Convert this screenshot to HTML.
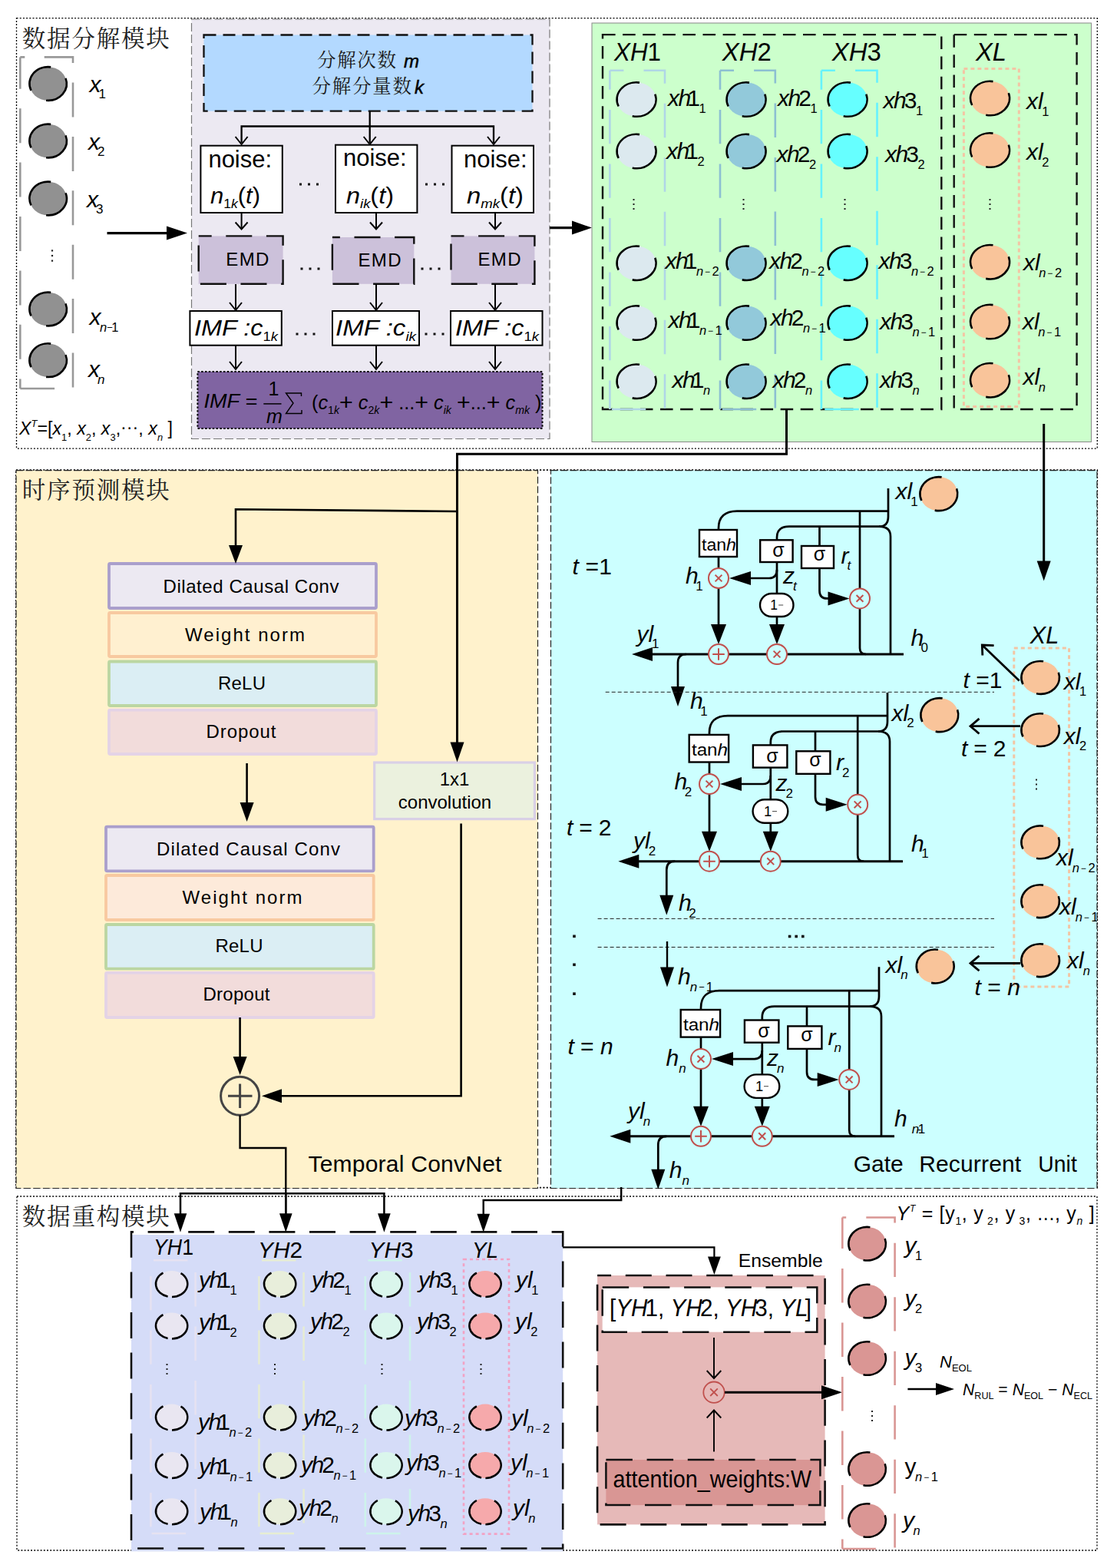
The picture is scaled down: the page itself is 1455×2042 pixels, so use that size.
<!DOCTYPE html>
<html><head><meta charset="utf-8"><title>diagram</title>
<style>
html,body{margin:0;padding:0;background:#fff;}
body{width:1455px;height:2042px;overflow:hidden;font-family:"Liberation Sans",sans-serif;}
svg{display:block;font-family:"Liberation Sans",sans-serif;}
</style></head><body>
<svg width="1455" height="2042" viewBox="0 0 1455 2042">
<rect width="1455" height="2042" fill="#fff"/>
<rect x="21.5" y="23.7" width="1407.8" height="560.4" fill="none" stroke="#000" stroke-width="1.3" stroke-dasharray="2 2.2" />
<text x="28.8" y="61" font-size="30.5" fill="#222" font-family="'Liberation Serif','Noto Serif CJK SC',serif" textLength="192" lengthAdjust="spacing">数据分解模块</text>
<path d="M26.3,74.4H95V506H26.3" fill="none" stroke="#999" stroke-width="2.6" stroke-dasharray="45 25.4" stroke-dashoffset="39" />
<path d="M26.3,506V74.4" fill="none" stroke="#999" stroke-width="2.6" stroke-dasharray="12.4 25.8 45 25.4 45 25.4 45 25.4 45 25.4 45 25.4 45 25.4" />
<ellipse cx="62.6" cy="109" rx="24.2" ry="21.8" fill="#919191"/>
<path d="M40.5,117.9A24.2,21.8 0 0 1 66.2,87.4" fill="none" stroke="#000" stroke-width="2.6"/>
<path d="M85.5,101.9A24.2,21.8 0 0 1 60.1,130.7" fill="none" stroke="#000" stroke-width="2.6"/>
<ellipse cx="62.6" cy="183.5" rx="24.2" ry="21.8" fill="#919191"/>
<path d="M40.5,192.4A24.2,21.8 0 0 1 66.2,161.9" fill="none" stroke="#000" stroke-width="2.6"/>
<path d="M85.5,176.4A24.2,21.8 0 0 1 60.1,205.2" fill="none" stroke="#000" stroke-width="2.6"/>
<ellipse cx="62.6" cy="258.5" rx="24.2" ry="21.8" fill="#919191"/>
<path d="M40.5,267.4A24.2,21.8 0 0 1 66.2,236.9" fill="none" stroke="#000" stroke-width="2.6"/>
<path d="M85.5,251.4A24.2,21.8 0 0 1 60.1,280.2" fill="none" stroke="#000" stroke-width="2.6"/>
<ellipse cx="62.6" cy="402.5" rx="24.2" ry="21.8" fill="#919191"/>
<path d="M40.5,411.4A24.2,21.8 0 0 1 66.2,380.9" fill="none" stroke="#000" stroke-width="2.6"/>
<path d="M85.5,395.4A24.2,21.8 0 0 1 60.1,424.2" fill="none" stroke="#000" stroke-width="2.6"/>
<ellipse cx="62.6" cy="469.2" rx="24.2" ry="21.8" fill="#919191"/>
<path d="M40.5,478.1A24.2,21.8 0 0 1 66.2,447.6" fill="none" stroke="#000" stroke-width="2.6"/>
<path d="M85.5,462.1A24.2,21.8 0 0 1 60.1,490.9" fill="none" stroke="#000" stroke-width="2.6"/>
<rect x="66.9" y="325.3" width="2.2" height="2.2" fill="#222"/>
<rect x="66.9" y="331.9" width="2.2" height="2.2" fill="#222"/>
<rect x="66.9" y="338.5" width="2.2" height="2.2" fill="#222"/>
<text x="116.5" y="119.8" font-size="30" fill="#000" ><tspan font-style="italic">x</tspan><tspan font-size="17" dy="8.5" dx="-3">1</tspan></text>
<text x="115" y="194.5" font-size="30" fill="#000" ><tspan font-style="italic">x</tspan><tspan font-size="17" dy="8.5" dx="-3">2</tspan></text>
<text x="113" y="269.5" font-size="30" fill="#000" ><tspan font-style="italic">x</tspan><tspan font-size="17" dy="8.5" dx="-3">3</tspan></text>
<text x="116.5" y="423" font-size="30" fill="#000" ><tspan font-style="italic">x</tspan><tspan font-style="italic" font-size="16.5" dy="9" dx="-1.5">n</tspan><tspan font-size="13" dy="-1">−</tspan><tspan font-size="16.5" dy="1" dx="-1.5">1</tspan></text>
<text x="115" y="491.4" font-size="30" fill="#000" ><tspan font-style="italic">x</tspan><tspan font-style="italic" font-size="17" dy="8.5" dx="-3">n</tspan></text>
<text x="25" y="566" font-size="23.5" fill="#000" textLength="200" lengthAdjust="spacingAndGlyphs" ><tspan font-style="italic">X</tspan><tspan font-style="italic" font-size="13" dy="-10">T</tspan><tspan dy="10">=[</tspan><tspan font-style="italic">x</tspan><tspan font-size="13" dy="8">1</tspan><tspan dy="-8">, </tspan><tspan font-style="italic">x</tspan><tspan font-size="13" dy="8">2</tspan><tspan dy="-8">, </tspan><tspan font-style="italic">x</tspan><tspan font-size="13" dy="8">3</tspan><tspan dy="-8">,</tspan><tspan dy="-2">···</tspan><tspan dy="2">, </tspan><tspan font-style="italic">x</tspan><tspan font-style="italic" font-size="13" dy="8">n</tspan><tspan dy="-8"> ]</tspan></text>
<path d="M139.5,303.6L222,303.6" fill="none" stroke="#000" stroke-width="3.2" />
<path d="M244,303.6L217,312.6L217,294.6Z" fill="#000"/>
<rect x="249.5" y="25" width="466.5" height="546.5" fill="#ece9f2" stroke="#777" stroke-width="1.2" stroke-dasharray="11 4" />
<rect x="265.5" y="45.5" width="428" height="99.2" fill="#b3d9ff" stroke="#111" stroke-width="2.3" stroke-dasharray="16 9" />
<text x="413" y="87" font-size="24.5" fill="#1a1a1a" font-family="'Liberation Serif','Noto Serif CJK SC',serif" textLength="103" lengthAdjust="spacing">分解次数</text>
<text x="526" y="88" font-size="24" fill="#000" stroke="#000" stroke-width="0.5"><tspan font-style="italic">m</tspan></text>
<text x="406.5" y="121" font-size="24.5" fill="#1a1a1a" font-family="'Liberation Serif','Noto Serif CJK SC',serif" textLength="129.5" lengthAdjust="spacing">分解分量数</text>
<text x="540" y="122" font-size="24" fill="#000" stroke="#000" stroke-width="0.5"><tspan font-style="italic">k</tspan></text>
<path d="M481.7,144.7V186M314.6,186V164.5H643V186" fill="none" stroke="#000" stroke-width="2.3" />
<path d="M306.6,178L314.6,188L322.6,178" fill="none" stroke="#000" stroke-width="2"/>
<path d="M473.7,178L481.7,188L489.7,178" fill="none" stroke="#000" stroke-width="2"/>
<path d="M635,178L643,188L651,178" fill="none" stroke="#000" stroke-width="2"/>
<rect x="261.4" y="189.7" width="106.4" height="87.3" fill="#fff" stroke="#000" stroke-width="2" />
<rect x="437" y="188.7" width="106.4" height="88.3" fill="#fff" stroke="#000" stroke-width="2" />
<rect x="588.5" y="189.7" width="106.5" height="87.3" fill="#fff" stroke="#000" stroke-width="2" />
<text x="271.4" y="218" font-size="31" fill="#000" ><tspan>noise:</tspan></text>
<text x="447" y="216.3" font-size="31" fill="#000" ><tspan>noise:</tspan></text>
<text x="604" y="218" font-size="31" fill="#000" ><tspan>noise:</tspan></text>
<text x="274" y="264.8" font-size="30" fill="#000" textLength="65" lengthAdjust="spacingAndGlyphs" ><tspan font-style="italic">n</tspan><tspan font-size="17" dy="6">1</tspan><tspan font-style="italic" font-size="17">k</tspan><tspan dy="-6">(</tspan><tspan font-style="italic">t</tspan><tspan>)</tspan></text>
<text x="451" y="264.8" font-size="30" fill="#000" textLength="62" lengthAdjust="spacingAndGlyphs" ><tspan font-style="italic">n</tspan><tspan font-style="italic" font-size="17" dy="6">ik</tspan><tspan dy="-6">(</tspan><tspan font-style="italic">t</tspan><tspan>)</tspan></text>
<text x="608" y="264.8" font-size="30" fill="#000" textLength="74" lengthAdjust="spacingAndGlyphs" ><tspan font-style="italic">n</tspan><tspan font-style="italic" font-size="17" dy="6">mk</tspan><tspan dy="-6">(</tspan><tspan font-style="italic">t</tspan><tspan>)</tspan></text>
<rect x="390" y="238.5" width="3" height="3" fill="#111"/>
<rect x="401" y="238.5" width="3" height="3" fill="#111"/>
<rect x="412" y="238.5" width="3" height="3" fill="#111"/>
<rect x="554" y="238.5" width="3" height="3" fill="#111"/>
<rect x="565" y="238.5" width="3" height="3" fill="#111"/>
<rect x="576" y="238.5" width="3" height="3" fill="#111"/>
<path d="M314.6,277L314.6,297" fill="none" stroke="#000" stroke-width="2" />
<path d="M306.6,289.5L314.6,298.5L322.6,289.5" fill="none" stroke="#000" stroke-width="2"/>
<path d="M490,277L490,297" fill="none" stroke="#000" stroke-width="2" />
<path d="M482,289.5L490,298.5L498,289.5" fill="none" stroke="#000" stroke-width="2"/>
<path d="M645,277L645,297" fill="none" stroke="#000" stroke-width="2" />
<path d="M637,289.5L645,298.5L653,289.5" fill="none" stroke="#000" stroke-width="2"/>
<rect x="258.7" y="307.4" width="109.9" height="62.4" fill="#ccc1da" stroke="#111" stroke-width="2.4" stroke-dasharray="34 18.6" stroke-dashoffset="17" />
<rect x="432.9" y="309" width="106.4" height="60.8" fill="#ccc1da" stroke="#111" stroke-width="2.4" stroke-dasharray="34 18.6" stroke-dashoffset="24" />
<rect x="587.5" y="307.4" width="108.9" height="62.4" fill="#ccc1da" stroke="#111" stroke-width="2.4" stroke-dasharray="34 18.6" stroke-dashoffset="17" />
<text x="294.3" y="345.5" font-size="24" fill="#000" textLength="56" lengthAdjust="spacing" ><tspan>EMD</tspan></text>
<text x="466.5" y="346.5" font-size="24" fill="#000" textLength="56" lengthAdjust="spacing" ><tspan>EMD</tspan></text>
<text x="622.5" y="345.5" font-size="24" fill="#000" textLength="56" lengthAdjust="spacing" ><tspan>EMD</tspan></text>
<rect x="391.5" y="348.5" width="3" height="3" fill="#111"/>
<rect x="402.5" y="348.5" width="3" height="3" fill="#111"/>
<rect x="413.5" y="348.5" width="3" height="3" fill="#111"/>
<rect x="548.5" y="348.5" width="3" height="3" fill="#111"/>
<rect x="559.5" y="348.5" width="3" height="3" fill="#111"/>
<rect x="570.5" y="348.5" width="3" height="3" fill="#111"/>
<path d="M307,370L307,402" fill="none" stroke="#000" stroke-width="2" />
<path d="M299,394L307,404L315,394" fill="none" stroke="#000" stroke-width="2"/>
<path d="M490,370L490,402" fill="none" stroke="#000" stroke-width="2" />
<path d="M482,394L490,404L498,394" fill="none" stroke="#000" stroke-width="2"/>
<path d="M645,370L645,402" fill="none" stroke="#000" stroke-width="2" />
<path d="M637,394L645,404L653,394" fill="none" stroke="#000" stroke-width="2"/>
<rect x="247.4" y="405" width="119.4" height="44.7" fill="#fff" stroke="#000" stroke-width="2" />
<rect x="433" y="405" width="113" height="44.7" fill="#fff" stroke="#000" stroke-width="2" />
<rect x="587" y="405" width="119.5" height="44.7" fill="#fff" stroke="#000" stroke-width="2" />
<text x="253" y="436.5" font-size="30" fill="#000" textLength="109" lengthAdjust="spacingAndGlyphs" ><tspan font-style="italic">IMF :c</tspan><tspan font-size="17" dy="7">1</tspan><tspan font-style="italic" font-size="17">k</tspan></text>
<text x="437" y="436.5" font-size="30" fill="#000" textLength="105" lengthAdjust="spacingAndGlyphs" ><tspan font-style="italic">IMF :c</tspan><tspan font-style="italic" font-size="17" dy="7">ik</tspan></text>
<text x="593" y="436.5" font-size="30" fill="#000" textLength="109" lengthAdjust="spacingAndGlyphs" ><tspan font-style="italic">IMF :c</tspan><tspan font-size="17" dy="7">1</tspan><tspan font-style="italic" font-size="17">k</tspan></text>
<rect x="385.5" y="433.5" width="3" height="3" fill="#111"/>
<rect x="396.5" y="433.5" width="3" height="3" fill="#111"/>
<rect x="407.5" y="433.5" width="3" height="3" fill="#111"/>
<rect x="553.5" y="433.5" width="3" height="3" fill="#111"/>
<rect x="564.5" y="433.5" width="3" height="3" fill="#111"/>
<rect x="575.5" y="433.5" width="3" height="3" fill="#111"/>
<path d="M307,450L307,479" fill="none" stroke="#000" stroke-width="2" />
<path d="M299,471L307,481L315,471" fill="none" stroke="#000" stroke-width="2"/>
<path d="M490,450L490,479" fill="none" stroke="#000" stroke-width="2" />
<path d="M482,471L490,481L498,471" fill="none" stroke="#000" stroke-width="2"/>
<path d="M645,450L645,479" fill="none" stroke="#000" stroke-width="2" />
<path d="M637,471L645,481L653,471" fill="none" stroke="#000" stroke-width="2"/>
<rect x="257.4" y="484" width="449.1" height="74" fill="#8064a2" stroke="#000" stroke-width="2" stroke-dasharray="2.4 2.4" />
<text x="265.5" y="531" font-size="25" fill="#000" textLength="69.5" lengthAdjust="spacingAndGlyphs" ><tspan font-style="italic">IMF =</tspan></text>
<text x="356.5" y="514.5" font-size="25" fill="#000" text-anchor="middle" ><tspan>1</tspan></text>
<path d="M343.3,525.9L366.5,525.9" fill="none" stroke="#000" stroke-width="1.5" />
<text x="357.5" y="551.3" font-size="25" fill="#000" text-anchor="middle" ><tspan font-style="italic">m</tspan></text>
<path d="M392.5,516V512H372.5L382,525L372.5,538.5H393V534" fill="none" stroke="#000" stroke-width="1.4" />
<text x="406" y="532.5" font-size="25" fill="#000" textLength="299.5" lengthAdjust="spacingAndGlyphs" ><tspan>(</tspan><tspan font-style="italic">c</tspan><tspan font-size="14" dy="6">1</tspan><tspan font-style="italic" font-size="14">k</tspan><tspan font-size="30" dy="-5">+</tspan><tspan font-style="italic" dy="-1"> c</tspan><tspan font-size="14" dy="6">2</tspan><tspan font-style="italic" font-size="14">k</tspan><tspan font-size="30" dy="-5">+</tspan><tspan dy="-1"> ...</tspan><tspan font-size="30" dy="1">+</tspan><tspan font-style="italic" dy="-1"> c</tspan><tspan font-style="italic" font-size="14" dy="6">ik</tspan><tspan dy="-6"> </tspan><tspan font-size="30" dy="1">+</tspan><tspan dy="-1">...</tspan><tspan font-size="30" dy="1">+</tspan><tspan font-style="italic" dy="-1"> c</tspan><tspan font-style="italic" font-size="14" dy="6">mk</tspan><tspan dy="-6"> )</tspan></text>
<path d="M716,296.6L750,296.6" fill="none" stroke="#000" stroke-width="3.2" />
<path d="M771,296.6L745,305.6L745,287.6Z" fill="#000"/>
<rect x="771" y="30" width="650.5" height="545.5" fill="#ccffcc" stroke="#888" stroke-width="1" />
<rect x="785" y="45.1" width="441.3" height="487.9" fill="none" stroke="#111" stroke-width="2.4" stroke-dasharray="16.6 9.5" />
<rect x="1242.7" y="45.1" width="159.9" height="487.9" fill="none" stroke="#111" stroke-width="2.4" stroke-dasharray="16.6 9.5" />
<text x="800" y="78.8" font-size="33" fill="#000" textLength="61" lengthAdjust="spacingAndGlyphs" ><tspan font-style="italic">XH</tspan><tspan>1</tspan></text>
<text x="940.8" y="78.8" font-size="33" fill="#000" textLength="64" lengthAdjust="spacingAndGlyphs" ><tspan font-style="italic">XH</tspan><tspan>2</tspan></text>
<text x="1083.8" y="78.8" font-size="33" fill="#000" textLength="64" lengthAdjust="spacingAndGlyphs" ><tspan font-style="italic">XH</tspan><tspan>3</tspan></text>
<text x="1271" y="78.8" font-size="33" fill="#000" textLength="40" lengthAdjust="spacingAndGlyphs" ><tspan font-style="italic">XL</tspan></text>
<path d="M794.4,91.8H866V533H794.4" fill="none" stroke="#b0d6e6" stroke-width="2.6" stroke-dasharray="44.4 26.1" stroke-dashoffset="26.4" />
<path d="M794.4,91.8V533" fill="none" stroke="#b0d6e6" stroke-width="2.6" stroke-dasharray="44.4 26.1" stroke-dashoffset="19.4" />
<path d="M938,91.8H1009.8V533H938" fill="none" stroke="#8cbfd2" stroke-width="2.6" stroke-dasharray="44.4 26.1" stroke-dashoffset="26.4" />
<path d="M938,91.8V533" fill="none" stroke="#8cbfd2" stroke-width="2.6" stroke-dasharray="44.4 26.1" stroke-dashoffset="19.4" />
<path d="M1069.9,91.8H1142.5V533H1069.9" fill="none" stroke="#66f2ff" stroke-width="2.6" stroke-dasharray="44.4 26.1" stroke-dashoffset="26.4" />
<path d="M1069.9,91.8V533" fill="none" stroke="#66f2ff" stroke-width="2.6" stroke-dasharray="44.4 26.1" stroke-dashoffset="19.4" />
<rect x="1255.4" y="89.5" width="71.9" height="440" fill="none" stroke="#f3c5a4" stroke-width="3" stroke-dasharray="5 4" />
<ellipse cx="829" cy="129.5" rx="25.5" ry="22.2" fill="#dce9ef"/>
<path d="M805.7,138.5A25.5,22.2 0 0 1 833,107.6" fill="none" stroke="#000" stroke-width="2.6"/>
<path d="M853.3,122.6A25.5,22.2 0 0 1 823.7,151.2" fill="none" stroke="#000" stroke-width="2.6"/>
<ellipse cx="829" cy="197" rx="25.5" ry="22.2" fill="#dce9ef"/>
<path d="M805.7,206A25.5,22.2 0 0 1 833,175.1" fill="none" stroke="#000" stroke-width="2.6"/>
<path d="M853.3,190.1A25.5,22.2 0 0 1 823.7,218.7" fill="none" stroke="#000" stroke-width="2.6"/>
<ellipse cx="829" cy="342.7" rx="25.5" ry="22.2" fill="#dce9ef"/>
<path d="M805.7,351.7A25.5,22.2 0 0 1 833,320.8" fill="none" stroke="#000" stroke-width="2.6"/>
<path d="M853.3,335.8A25.5,22.2 0 0 1 823.7,364.4" fill="none" stroke="#000" stroke-width="2.6"/>
<ellipse cx="829" cy="420.5" rx="25.5" ry="22.2" fill="#dce9ef"/>
<path d="M805.7,429.5A25.5,22.2 0 0 1 833,398.6" fill="none" stroke="#000" stroke-width="2.6"/>
<path d="M853.3,413.6A25.5,22.2 0 0 1 823.7,442.2" fill="none" stroke="#000" stroke-width="2.6"/>
<ellipse cx="829" cy="496.7" rx="25.5" ry="22.2" fill="#dce9ef"/>
<path d="M805.7,505.7A25.5,22.2 0 0 1 833,474.8" fill="none" stroke="#000" stroke-width="2.6"/>
<path d="M853.3,489.8A25.5,22.2 0 0 1 823.7,518.4" fill="none" stroke="#000" stroke-width="2.6"/>
<rect x="824.5" y="259" width="2" height="2" fill="#222"/>
<rect x="824.5" y="265" width="2" height="2" fill="#222"/>
<rect x="824.5" y="271" width="2" height="2" fill="#222"/>
<ellipse cx="972" cy="129.5" rx="25.5" ry="22.2" fill="#92c9da"/>
<path d="M948.7,138.5A25.5,22.2 0 0 1 976,107.6" fill="none" stroke="#000" stroke-width="2.6"/>
<path d="M996.3,122.6A25.5,22.2 0 0 1 966.7,151.2" fill="none" stroke="#000" stroke-width="2.6"/>
<ellipse cx="972" cy="197" rx="25.5" ry="22.2" fill="#92c9da"/>
<path d="M948.7,206A25.5,22.2 0 0 1 976,175.1" fill="none" stroke="#000" stroke-width="2.6"/>
<path d="M996.3,190.1A25.5,22.2 0 0 1 966.7,218.7" fill="none" stroke="#000" stroke-width="2.6"/>
<ellipse cx="972" cy="342.7" rx="25.5" ry="22.2" fill="#92c9da"/>
<path d="M948.7,351.7A25.5,22.2 0 0 1 976,320.8" fill="none" stroke="#000" stroke-width="2.6"/>
<path d="M996.3,335.8A25.5,22.2 0 0 1 966.7,364.4" fill="none" stroke="#000" stroke-width="2.6"/>
<ellipse cx="972" cy="420.5" rx="25.5" ry="22.2" fill="#92c9da"/>
<path d="M948.7,429.5A25.5,22.2 0 0 1 976,398.6" fill="none" stroke="#000" stroke-width="2.6"/>
<path d="M996.3,413.6A25.5,22.2 0 0 1 966.7,442.2" fill="none" stroke="#000" stroke-width="2.6"/>
<ellipse cx="972" cy="496.7" rx="25.5" ry="22.2" fill="#92c9da"/>
<path d="M948.7,505.7A25.5,22.2 0 0 1 976,474.8" fill="none" stroke="#000" stroke-width="2.6"/>
<path d="M996.3,489.8A25.5,22.2 0 0 1 966.7,518.4" fill="none" stroke="#000" stroke-width="2.6"/>
<rect x="967.5" y="259" width="2" height="2" fill="#222"/>
<rect x="967.5" y="265" width="2" height="2" fill="#222"/>
<rect x="967.5" y="271" width="2" height="2" fill="#222"/>
<ellipse cx="1104" cy="129.5" rx="25.5" ry="22.2" fill="#66ffff"/>
<path d="M1080.7,138.5A25.5,22.2 0 0 1 1108,107.6" fill="none" stroke="#000" stroke-width="2.6"/>
<path d="M1128.3,122.6A25.5,22.2 0 0 1 1098.7,151.2" fill="none" stroke="#000" stroke-width="2.6"/>
<ellipse cx="1104" cy="197" rx="25.5" ry="22.2" fill="#66ffff"/>
<path d="M1080.7,206A25.5,22.2 0 0 1 1108,175.1" fill="none" stroke="#000" stroke-width="2.6"/>
<path d="M1128.3,190.1A25.5,22.2 0 0 1 1098.7,218.7" fill="none" stroke="#000" stroke-width="2.6"/>
<ellipse cx="1104" cy="342.7" rx="25.5" ry="22.2" fill="#66ffff"/>
<path d="M1080.7,351.7A25.5,22.2 0 0 1 1108,320.8" fill="none" stroke="#000" stroke-width="2.6"/>
<path d="M1128.3,335.8A25.5,22.2 0 0 1 1098.7,364.4" fill="none" stroke="#000" stroke-width="2.6"/>
<ellipse cx="1104" cy="420.5" rx="25.5" ry="22.2" fill="#66ffff"/>
<path d="M1080.7,429.5A25.5,22.2 0 0 1 1108,398.6" fill="none" stroke="#000" stroke-width="2.6"/>
<path d="M1128.3,413.6A25.5,22.2 0 0 1 1098.7,442.2" fill="none" stroke="#000" stroke-width="2.6"/>
<ellipse cx="1104" cy="496.7" rx="25.5" ry="22.2" fill="#66ffff"/>
<path d="M1080.7,505.7A25.5,22.2 0 0 1 1108,474.8" fill="none" stroke="#000" stroke-width="2.6"/>
<path d="M1128.3,489.8A25.5,22.2 0 0 1 1098.7,518.4" fill="none" stroke="#000" stroke-width="2.6"/>
<rect x="1099.5" y="259" width="2" height="2" fill="#222"/>
<rect x="1099.5" y="265" width="2" height="2" fill="#222"/>
<rect x="1099.5" y="271" width="2" height="2" fill="#222"/>
<ellipse cx="1289.5" cy="128" rx="25.5" ry="22.2" fill="#f9c49a"/>
<path d="M1266.2,137A25.5,22.2 0 0 1 1293.5,106.1" fill="none" stroke="#000" stroke-width="2.6"/>
<path d="M1313.8,121.1A25.5,22.2 0 0 1 1284.2,149.7" fill="none" stroke="#000" stroke-width="2.6"/>
<ellipse cx="1289.5" cy="195.5" rx="25.5" ry="22.2" fill="#f9c49a"/>
<path d="M1266.2,204.5A25.5,22.2 0 0 1 1293.5,173.6" fill="none" stroke="#000" stroke-width="2.6"/>
<path d="M1313.8,188.6A25.5,22.2 0 0 1 1284.2,217.2" fill="none" stroke="#000" stroke-width="2.6"/>
<ellipse cx="1289.5" cy="341.2" rx="25.5" ry="22.2" fill="#f9c49a"/>
<path d="M1266.2,350.2A25.5,22.2 0 0 1 1293.5,319.3" fill="none" stroke="#000" stroke-width="2.6"/>
<path d="M1313.8,334.3A25.5,22.2 0 0 1 1284.2,362.9" fill="none" stroke="#000" stroke-width="2.6"/>
<ellipse cx="1289.5" cy="419" rx="25.5" ry="22.2" fill="#f9c49a"/>
<path d="M1266.2,428A25.5,22.2 0 0 1 1293.5,397.1" fill="none" stroke="#000" stroke-width="2.6"/>
<path d="M1313.8,412.1A25.5,22.2 0 0 1 1284.2,440.7" fill="none" stroke="#000" stroke-width="2.6"/>
<ellipse cx="1289.5" cy="495.2" rx="25.5" ry="22.2" fill="#f9c49a"/>
<path d="M1266.2,504.2A25.5,22.2 0 0 1 1293.5,473.3" fill="none" stroke="#000" stroke-width="2.6"/>
<path d="M1313.8,488.3A25.5,22.2 0 0 1 1284.2,516.9" fill="none" stroke="#000" stroke-width="2.6"/>
<rect x="1288.5" y="259" width="2" height="2" fill="#222"/>
<rect x="1288.5" y="265" width="2" height="2" fill="#222"/>
<rect x="1288.5" y="271" width="2" height="2" fill="#222"/>
<text x="870" y="138" font-size="30" fill="#000" ><tspan font-style="italic">x</tspan><tspan font-style="italic" dx="-1.5">h</tspan><tspan dx="-5">1</tspan><tspan font-size="16.5" dy="9" dx="-1.5">1</tspan></text>
<text x="868" y="206.5" font-size="30" fill="#000" ><tspan font-style="italic">x</tspan><tspan font-style="italic" dx="-1.5">h</tspan><tspan dx="-5">1</tspan><tspan font-size="16.5" dy="9" dx="-1.5">2</tspan></text>
<text x="866.5" y="350" font-size="30" fill="#000" ><tspan font-style="italic">x</tspan><tspan font-style="italic" dx="-1.5">h</tspan><tspan dx="-5">1</tspan><tspan font-style="italic" font-size="16.5" dy="9" dx="-1.5">n</tspan><tspan font-size="12" dy="-1" dx="2">−</tspan><tspan font-size="16.5" dy="1" dx="2.5">2</tspan></text>
<text x="870.5" y="427" font-size="30" fill="#000" ><tspan font-style="italic">x</tspan><tspan font-style="italic" dx="-1.5">h</tspan><tspan dx="-5">1</tspan><tspan font-style="italic" font-size="16.5" dy="9" dx="-1.5">n</tspan><tspan font-size="12" dy="-1" dx="2">−</tspan><tspan font-size="16.5" dy="1" dx="2.5">1</tspan></text>
<text x="875.5" y="505" font-size="30" fill="#000" ><tspan font-style="italic">x</tspan><tspan font-style="italic" dx="-1.5">h</tspan><tspan dx="-5">1</tspan><tspan font-style="italic" font-size="16.5" dy="9" dx="-1.5">n</tspan></text>
<text x="1013" y="138" font-size="30" fill="#000" ><tspan font-style="italic">x</tspan><tspan font-style="italic" dx="-1.5">h</tspan><tspan dx="-3">2</tspan><tspan font-size="16.5" dy="9" dx="-1.5">1</tspan></text>
<text x="1011.5" y="211" font-size="30" fill="#000" ><tspan font-style="italic">x</tspan><tspan font-style="italic" dx="-1.5">h</tspan><tspan dx="-3">2</tspan><tspan font-size="16.5" dy="9" dx="-1.5">2</tspan></text>
<text x="1002" y="350" font-size="30" fill="#000" ><tspan font-style="italic">x</tspan><tspan font-style="italic" dx="-1.5">h</tspan><tspan dx="-3">2</tspan><tspan font-style="italic" font-size="16.5" dy="9" dx="-1.5">n</tspan><tspan font-size="12" dy="-1" dx="2">−</tspan><tspan font-size="16.5" dy="1" dx="2.5">2</tspan></text>
<text x="1003.5" y="424" font-size="30" fill="#000" ><tspan font-style="italic">x</tspan><tspan font-style="italic" dx="-1.5">h</tspan><tspan dx="-3">2</tspan><tspan font-style="italic" font-size="16.5" dy="9" dx="-1.5">n</tspan><tspan font-size="12" dy="-1" dx="2">−</tspan><tspan font-size="16.5" dy="1" dx="2.5">1</tspan></text>
<text x="1006.5" y="505" font-size="30" fill="#000" ><tspan font-style="italic">x</tspan><tspan font-style="italic" dx="-1.5">h</tspan><tspan dx="-3">2</tspan><tspan font-style="italic" font-size="16.5" dy="9" dx="-1.5">n</tspan></text>
<text x="1150.5" y="141" font-size="30" fill="#000" ><tspan font-style="italic">x</tspan><tspan font-style="italic" dx="-1.5">h</tspan><tspan dx="-3">3</tspan><tspan font-size="16.5" dy="9" dx="-1.5">1</tspan></text>
<text x="1153" y="211" font-size="30" fill="#000" ><tspan font-style="italic">x</tspan><tspan font-style="italic" dx="-1.5">h</tspan><tspan dx="-3">3</tspan><tspan font-size="16.5" dy="9" dx="-1.5">2</tspan></text>
<text x="1144.5" y="350" font-size="30" fill="#000" ><tspan font-style="italic">x</tspan><tspan font-style="italic" dx="-1.5">h</tspan><tspan dx="-3">3</tspan><tspan font-style="italic" font-size="16.5" dy="9" dx="-1.5">n</tspan><tspan font-size="12" dy="-1" dx="2">−</tspan><tspan font-size="16.5" dy="1" dx="2.5">2</tspan></text>
<text x="1146" y="429" font-size="30" fill="#000" ><tspan font-style="italic">x</tspan><tspan font-style="italic" dx="-1.5">h</tspan><tspan dx="-3">3</tspan><tspan font-style="italic" font-size="16.5" dy="9" dx="-1.5">n</tspan><tspan font-size="12" dy="-1" dx="2">−</tspan><tspan font-size="16.5" dy="1" dx="2.5">1</tspan></text>
<text x="1146" y="505" font-size="30" fill="#000" ><tspan font-style="italic">x</tspan><tspan font-style="italic" dx="-1.5">h</tspan><tspan dx="-3">3</tspan><tspan font-style="italic" font-size="16.5" dy="9" dx="-1.5">n</tspan></text>
<text x="1337" y="141.5" font-size="30" fill="#000" ><tspan font-style="italic">xl</tspan><tspan font-size="16.5" dy="9" dx="-1.5">1</tspan></text>
<text x="1337" y="208" font-size="30" fill="#000" ><tspan font-style="italic">xl</tspan><tspan font-size="16.5" dy="9" dx="-1.5">2</tspan></text>
<text x="1333" y="352" font-size="30" fill="#000" ><tspan font-style="italic">xl</tspan><tspan font-style="italic" font-size="16.5" dy="9" dx="-1.5">n</tspan><tspan font-size="12" dy="-1" dx="2">−</tspan><tspan font-size="16.5" dy="1" dx="2.5">2</tspan></text>
<text x="1332" y="429" font-size="30" fill="#000" ><tspan font-style="italic">xl</tspan><tspan font-style="italic" font-size="16.5" dy="9" dx="-1.5">n</tspan><tspan font-size="12" dy="-1" dx="2">−</tspan><tspan font-size="16.5" dy="1" dx="2.5">1</tspan></text>
<text x="1332.5" y="501" font-size="30" fill="#000" ><tspan font-style="italic">xl</tspan><tspan font-style="italic" font-size="16.5" dy="9" dx="-1.5">n</tspan></text>
<rect x="21" y="612.1" width="1408.2" height="934.5" fill="none" stroke="#000" stroke-width="1.8" stroke-dasharray="2.2 2.2" />
<rect x="21" y="612.7" width="679.5" height="934.8" fill="#fff2cc" stroke="#222" stroke-width="1.2" stroke-dasharray="9 3.5" />
<text x="28.8" y="649.4" font-size="30.5" fill="#222" font-family="'Liberation Serif','Noto Serif CJK SC',serif" textLength="192" lengthAdjust="spacing">时序预测模块</text>
<path d="M1024.5,533V591.3H595.5V970" fill="none" stroke="#000" stroke-width="3" />
<path d="M595.5,666L307,663.2V712" fill="none" stroke="#000" stroke-width="2.6" />
<rect x="142" y="734" width="348" height="58" fill="#ece9f2" stroke="#aa9fcc" stroke-width="3.8" rx="1.5"/>
<rect x="142" y="798" width="348" height="57" fill="#fff0d0" stroke="#f8c9a0" stroke-width="3.8" rx="1.5"/>
<rect x="142" y="861.5" width="348" height="57.5" fill="#dbeef4" stroke="#bbd6a2" stroke-width="3.8" rx="1.5"/>
<rect x="142" y="924.7" width="348" height="57.3" fill="#f2dcdb" stroke="#e4d3e6" stroke-width="3.8" rx="1.5"/>
<text x="212.5" y="771.5" font-size="24" fill="#000" textLength="229" lengthAdjust="spacing" ><tspan>Dilated Causal Conv</tspan></text>
<text x="241" y="835" font-size="24" fill="#000" textLength="156" lengthAdjust="spacing" ><tspan>Weight  norm</tspan></text>
<text x="284" y="898" font-size="24" fill="#000" textLength="62" lengthAdjust="spacing" ><tspan>ReLU</tspan></text>
<text x="268.5" y="961" font-size="24" fill="#000" textLength="91" lengthAdjust="spacing" ><tspan>Dropout</tspan></text>
<path d="M321.6,994L321.6,1047" fill="none" stroke="#000" stroke-width="2.6" />
<rect x="487.7" y="993" width="208.7" height="73.6" fill="#ebf1de" stroke="#d9d0e6" stroke-width="3.2" />
<path d="M595.5,992.6L586.5,966.6L604.5,966.6Z" fill="#000"/>
<text x="592" y="1022.5" font-size="24" fill="#000" text-anchor="middle" ><tspan>1x1</tspan></text>
<text x="579.5" y="1052.6" font-size="24" fill="#000" text-anchor="middle" ><tspan>convolution</tspan></text>
<rect x="138" y="1076.6" width="348.7" height="57.7" fill="#ece9f2" stroke="#aa9fcc" stroke-width="3.8" rx="1.5"/>
<rect x="138" y="1140" width="348.7" height="58" fill="#fdeada" stroke="#f8c9a0" stroke-width="3.8" rx="1.5"/>
<rect x="138" y="1204" width="348.7" height="57.7" fill="#dbeef4" stroke="#bbd6a2" stroke-width="3.8" rx="1.5"/>
<rect x="138" y="1266.8" width="348.7" height="58.2" fill="#f2dcdb" stroke="#e4d3e6" stroke-width="3.8" rx="1.5"/>
<text x="204" y="1113.5" font-size="24" fill="#000" textLength="239" lengthAdjust="spacing" ><tspan>Dilated Causal Conv</tspan></text>
<text x="237.5" y="1177" font-size="24" fill="#000" textLength="156" lengthAdjust="spacing" ><tspan>Weight  norm</tspan></text>
<text x="280.5" y="1240" font-size="24" fill="#000" textLength="62" lengthAdjust="spacing" ><tspan>ReLU</tspan></text>
<text x="264.5" y="1303" font-size="24" fill="#000" textLength="87" lengthAdjust="spacing" ><tspan>Dropout</tspan></text>
<path d="M312.6,1325L312.6,1378" fill="none" stroke="#000" stroke-width="2.6" />
<path d="M312.6,1400L303.6,1376L321.6,1376Z" fill="#000"/>
<circle cx="312.6" cy="1427.3" r="25" fill="none" stroke="#444" stroke-width="3"/>
<path d="M297,1427.3H328.5M312.6,1411.5V1443" fill="none" stroke="#444" stroke-width="3" />
<path d="M600.6,1072.6V1427.3H365" fill="none" stroke="#000" stroke-width="2.6" />
<path d="M341,1427.3L367,1418.3L367,1436.3Z" fill="#000"/>
<path d="M312.6,1452.5V1495H372.3V1582" fill="none" stroke="#000" stroke-width="2.4" />
<text x="401.4" y="1525.7" font-size="30" fill="#000" textLength="252" lengthAdjust="spacing" ><tspan>Temporal ConvNet</tspan></text>
<path d="M307,734L298,710L316,710Z" fill="#000"/>
<path d="M321.6,1070L312.6,1045L330.6,1045Z" fill="#000"/>
<rect x="717.5" y="612.7" width="711.5" height="934.8" fill="#ccffff" stroke="#222" stroke-width="1.2" stroke-dasharray="9 3.5" />
<path d="M1359.7,552L1359.7,733" fill="none" stroke="#000" stroke-width="3" />
<path d="M1359.7,756.5L1350.7,730.5L1368.7,730.5Z" fill="#000"/>
<path d="M1157,636V672.7Q1157,685.7 1145,685.7" fill="none" stroke="#000" stroke-width="2.7" />
<path d="M1157,665.6H960C944,665.6 936,673.6 936,687.6V690" fill="none" stroke="#000" stroke-width="2.7" />
<path d="M1012,703.3V699.7C1012,690.7 1017,685.7 1028,685.7H1145Q1160,685.7 1160,698.7V852" fill="none" stroke="#000" stroke-width="2.7" />
<path d="M1067.5,685.7L1067.5,711" fill="none" stroke="#000" stroke-width="2.7" />
<path d="M1120,665.6V766.4M1120,792.4V844Q1120,852 1128,852" fill="none" stroke="#000" stroke-width="2.7" />
<path d="M1177,852L843,852" fill="none" stroke="#000" stroke-width="3.0" />
<path d="M823,852L850,843L850,861Z" fill="#000"/>
<rect x="911" y="690" width="49" height="35" fill="#fff" stroke="#000" stroke-width="2.4" />
<text x="936.5" y="716.6" font-size="22.5" fill="#000" text-anchor="middle" textLength="45" lengthAdjust="spacingAndGlyphs" ><tspan>tan</tspan><tspan font-style="italic">h</tspan></text>
<rect x="990.2" y="703.3" width="42.4" height="28.7" fill="#fff" stroke="#000" stroke-width="2.4" />
<rect x="1044" y="711" width="42" height="29" fill="#fff" stroke="#000" stroke-width="2.4" />
<text x="1014" y="725.1" font-size="25" fill="#000" text-anchor="middle" ><tspan>σ</tspan></text>
<text x="1067.5" y="730.1" font-size="25" fill="#000" text-anchor="middle" ><tspan>σ</tspan></text>
<path d="M936,725L936,740" fill="none" stroke="#000" stroke-width="2.7" />
<path d="M936,766L936,816" fill="none" stroke="#000" stroke-width="2.7" />
<path d="M936,839L926,813L946,813Z" fill="#000"/>
<circle cx="936" cy="753" r="13" fill="none" stroke="#c0504d" stroke-width="2"/>
<path d="M931.6,748.6L940.4,757.4M940.4,748.6L931.6,757.4" stroke="#c0504d" stroke-width="2" fill="none"/>
<path d="M1012,732V773" fill="none" stroke="#000" stroke-width="2.7" />
<path d="M1012,742Q1012,753 1002,753H976" fill="none" stroke="#000" stroke-width="2.7" />
<path d="M950,753L978,744L978,762Z" fill="#000"/>
<rect x="990" y="773" width="43.5" height="30" fill="#fff" stroke="#000" stroke-width="2.4" rx="15"/>
<text x="1008.2" y="794.3" font-size="17.5" fill="#000" text-anchor="middle" ><tspan>1</tspan></text>
<path d="M1014.2,788L1020.2,788" fill="none" stroke="#333" stroke-width="0.9" />
<path d="M1012,803L1012,816" fill="none" stroke="#000" stroke-width="2.7" />
<path d="M1012,839L1002,813L1022,813Z" fill="#000"/>
<path d="M1067.5,740V769.4Q1067.5,779.4 1077.5,779.4H1082" fill="none" stroke="#000" stroke-width="2.7" />
<path d="M1106.5,779.4L1078.5,788.4L1078.5,770.4Z" fill="#000"/>
<circle cx="1120" cy="779.4" r="13" fill="none" stroke="#c0504d" stroke-width="2"/>
<path d="M1115.6,775L1124.4,783.8M1124.4,775L1115.6,783.8" stroke="#c0504d" stroke-width="2" fill="none"/>
<circle cx="936" cy="852" r="13" fill="#ccffff" stroke="#c0504d" stroke-width="2"/>
<path d="M928.2,852H943.8M936,844.2V859.8" stroke="#c0504d" stroke-width="2" fill="none"/>
<circle cx="1012" cy="852" r="13" fill="#ccffff" stroke="#c0504d" stroke-width="2"/>
<path d="M1007.6,847.6L1016.4,856.4M1016.4,847.6L1007.6,856.4" stroke="#c0504d" stroke-width="2" fill="none"/>
<path d="M894,852Q883,852 883,863V898" fill="none" stroke="#000" stroke-width="2.7" />
<path d="M883,920L874,894L892,894Z" fill="#000"/>
<text x="1166.5" y="650" font-size="30" fill="#000" ><tspan font-style="italic">xl</tspan><tspan font-size="17" dy="8.5" dx="-2">1</tspan></text>
<ellipse cx="1222.8" cy="643.1" rx="24.5" ry="22" fill="#f9c49a"/>
<path d="M1200.4,652A24.5,22 0 0 1 1226.6,621.4" fill="none" stroke="#000" stroke-width="2.6"/>
<path d="M1246.1,636.3A24.5,22 0 0 1 1217.7,664.6" fill="none" stroke="#000" stroke-width="2.6"/>
<text x="893" y="760" font-size="30" fill="#000" ><tspan font-style="italic">h</tspan><tspan font-size="17" dy="8.5" dx="-3.5">1</tspan></text>
<text x="1020" y="760" font-size="30" fill="#000" ><tspan font-style="italic">z</tspan><tspan font-style="italic" font-size="17" dy="8.5" dx="-2">t</tspan></text>
<text x="1095.4" y="733.6" font-size="30" fill="#000" ><tspan font-style="italic">r</tspan><tspan font-style="italic" font-size="17" dy="8.5" dx="-2">t</tspan></text>
<text x="1186.4" y="840.7" font-size="30" fill="#000" ><tspan font-style="italic">h</tspan><tspan font-size="17" dy="8.5" dx="-3.5">0</tspan></text>
<text x="829.4" y="835.5" font-size="30" fill="#000" ><tspan font-style="italic">yl</tspan><tspan font-size="17" dy="8.5" dx="-2">1</tspan></text>
<text x="899" y="923" font-size="30" fill="#000" ><tspan font-style="italic">h</tspan><tspan font-size="17" dy="8.5" dx="-3.5">1</tspan></text>
<text x="745.5" y="747.5" font-size="30" fill="#000" textLength="51.5" lengthAdjust="spacing" ><tspan font-style="italic">t</tspan><tspan> =1</tspan></text>
<path d="M788.7,901.3L1295,901.3" fill="none" stroke="#222" stroke-width="1" stroke-dasharray="5 3" />
<path d="M1156,902V939.5Q1156,952.5 1144,952.5" fill="none" stroke="#000" stroke-width="2.7" />
<path d="M1156,932.1H948C932,932.1 924,940.1 924,954.1V956.9" fill="none" stroke="#000" stroke-width="2.7" />
<path d="M1003.8,970.4V966.5C1003.8,957.5 1008.8,952.5 1019.8,952.5H1144Q1159,952.5 1159,965.5V1121.7" fill="none" stroke="#000" stroke-width="2.7" />
<path d="M1062,952.5L1062,978.3" fill="none" stroke="#000" stroke-width="2.7" />
<path d="M1117.2,932.1V1034.8M1117.2,1060.8V1113.7Q1117.2,1121.7 1125.2,1121.7" fill="none" stroke="#000" stroke-width="2.7" />
<path d="M1176,1121.7L825.3,1121.7" fill="none" stroke="#000" stroke-width="3.0" />
<path d="M805.3,1121.7L832.3,1112.7L832.3,1130.7Z" fill="#000"/>
<rect x="897.7" y="956.9" width="51.4" height="35.6" fill="#fff" stroke="#000" stroke-width="2.4" />
<text x="924.5" y="984" font-size="22.5" fill="#000" text-anchor="middle" textLength="47.2" lengthAdjust="spacingAndGlyphs" ><tspan>tan</tspan><tspan font-style="italic">h</tspan></text>
<rect x="980.9" y="970.4" width="44.5" height="29.2" fill="#fff" stroke="#000" stroke-width="2.4" />
<rect x="1037.3" y="978.3" width="44.1" height="29.5" fill="#fff" stroke="#000" stroke-width="2.4" />
<text x="1005.9" y="992.6" font-size="25" fill="#000" text-anchor="middle" ><tspan>σ</tspan></text>
<text x="1062" y="997.7" font-size="25" fill="#000" text-anchor="middle" ><tspan>σ</tspan></text>
<path d="M924,992.5L924,1008" fill="none" stroke="#000" stroke-width="2.7" />
<path d="M924,1034L924,1085.7" fill="none" stroke="#000" stroke-width="2.7" />
<path d="M924,1108.7L914,1082.7L934,1082.7Z" fill="#000"/>
<circle cx="924" cy="1021" r="13" fill="none" stroke="#c0504d" stroke-width="2"/>
<path d="M919.5,1016.6L928.4,1025.4M928.4,1016.6L919.5,1025.4" stroke="#c0504d" stroke-width="2" fill="none"/>
<path d="M1003.8,999.6V1041.3" fill="none" stroke="#000" stroke-width="2.7" />
<path d="M1003.8,1010Q1003.8,1021 993.8,1021H964" fill="none" stroke="#000" stroke-width="2.7" />
<path d="M938,1021L966,1012L966,1030Z" fill="#000"/>
<rect x="980.6" y="1041.3" width="45.7" height="30.5" fill="#fff" stroke="#000" stroke-width="2.4" rx="15.3"/>
<text x="1000" y="1062.9" font-size="18.4" fill="#000" text-anchor="middle" ><tspan>1</tspan></text>
<path d="M1006,1056.6L1012,1056.6" fill="none" stroke="#333" stroke-width="0.9" />
<path d="M1003.8,1071.8L1003.8,1085.7" fill="none" stroke="#000" stroke-width="2.7" />
<path d="M1003.8,1108.7L993.8,1082.7L1013.8,1082.7Z" fill="#000"/>
<path d="M1062,1007.8V1037.8Q1062,1047.8 1072,1047.8H1079.2" fill="none" stroke="#000" stroke-width="2.7" />
<path d="M1103.7,1047.8L1075.7,1056.8L1075.7,1038.8Z" fill="#000"/>
<circle cx="1117.2" cy="1047.8" r="13" fill="none" stroke="#c0504d" stroke-width="2"/>
<path d="M1112.7,1043.4L1121.6,1052.3M1121.6,1043.4L1112.7,1052.3" stroke="#c0504d" stroke-width="2" fill="none"/>
<circle cx="924" cy="1121.7" r="13" fill="#ccffff" stroke="#c0504d" stroke-width="2"/>
<path d="M916.2,1121.7H931.8M924,1113.9V1129.5" stroke="#c0504d" stroke-width="2" fill="none"/>
<circle cx="1003.8" cy="1121.7" r="13" fill="#ccffff" stroke="#c0504d" stroke-width="2"/>
<path d="M999.3,1117.2L1008.2,1126.1M1008.2,1117.2L999.3,1126.1" stroke="#c0504d" stroke-width="2" fill="none"/>
<path d="M879.3,1121.7Q868.3,1121.7 868.3,1132.7V1169.7" fill="none" stroke="#000" stroke-width="2.7" />
<path d="M868.3,1191.7L859.3,1165.7L877.3,1165.7Z" fill="#000"/>
<text x="1161.6" y="938.5" font-size="30" fill="#000" ><tspan font-style="italic">xl</tspan><tspan font-size="17" dy="8.5" dx="-2">2</tspan></text>
<ellipse cx="1223.8" cy="931.1" rx="24.5" ry="22" fill="#f9c49a"/>
<path d="M1201.4,940A24.5,22 0 0 1 1227.6,909.4" fill="none" stroke="#000" stroke-width="2.6"/>
<path d="M1247.1,924.3A24.5,22 0 0 1 1218.7,952.6" fill="none" stroke="#000" stroke-width="2.6"/>
<text x="878.5" y="1028" font-size="30" fill="#000" ><tspan font-style="italic">h</tspan><tspan font-size="17" dy="8.5" dx="-3.5">2</tspan></text>
<text x="1010.5" y="1030" font-size="30" fill="#000" ><tspan font-style="italic">z</tspan><tspan font-size="17" dy="8.5" dx="-2">2</tspan></text>
<text x="1089" y="1003" font-size="30" fill="#000" ><tspan font-style="italic">r</tspan><tspan font-size="17" dy="8.5" dx="-2">2</tspan></text>
<text x="1187" y="1108.6" font-size="30" fill="#000" ><tspan font-style="italic">h</tspan><tspan font-size="17" dy="8.5" dx="-3.5">1</tspan></text>
<text x="825" y="1105" font-size="30" fill="#000" ><tspan font-style="italic">yl</tspan><tspan font-size="17" dy="8.5" dx="-2">2</tspan></text>
<text x="884" y="1186" font-size="30" fill="#000" ><tspan font-style="italic">h</tspan><tspan font-size="17" dy="8.5" dx="-3.5">2</tspan></text>
<text x="738" y="1087.5" font-size="30" fill="#000" textLength="58.5" lengthAdjust="spacing" ><tspan font-style="italic">t</tspan><tspan> = 2</tspan></text>
<path d="M778.6,1196.4L1295,1196.4" fill="none" stroke="#222" stroke-width="1" stroke-dasharray="5 3" />
<path d="M778.6,1233.5L1295,1233.5" fill="none" stroke="#222" stroke-width="1" stroke-dasharray="5 3" />
<rect x="1026.8" y="1217.7" width="3.6" height="3.6" fill="#111"/>
<rect x="1035.4" y="1217.7" width="3.6" height="3.6" fill="#111"/>
<rect x="1044" y="1217.7" width="3.6" height="3.6" fill="#111"/>
<rect x="746.2" y="1217.5" width="3.6" height="3.6" fill="#111"/>
<rect x="746.2" y="1254.5" width="3.6" height="3.6" fill="#111"/>
<rect x="746.2" y="1292.4" width="3.6" height="3.6" fill="#111"/>
<path d="M869,1226L869,1262" fill="none" stroke="#000" stroke-width="2.4" />
<path d="M869,1285.4L860,1259.4L878,1259.4Z" fill="#000"/>
<text x="883" y="1282" font-size="30" fill="#000" ><tspan font-style="italic">h</tspan><tspan font-style="italic" font-size="17" dy="9" dx="-1">n</tspan><tspan font-size="12.8" dy="-1" dx="2">−</tspan><tspan font-size="17" dy="1" dx="2">1</tspan></text>
<path d="M1145,1259.3V1297.6Q1145,1310.6 1133,1310.6" fill="none" stroke="#000" stroke-width="2.7" />
<path d="M1145,1290.2H937C921,1290.2 913,1298.2 913,1312.2V1315" fill="none" stroke="#000" stroke-width="2.7" />
<path d="M992.8,1328.5V1324.6C992.8,1315.6 997.8,1310.6 1008.8,1310.6H1133Q1148,1310.6 1148,1323.6V1479.8" fill="none" stroke="#000" stroke-width="2.7" />
<path d="M1051,1310.6L1051,1336.4" fill="none" stroke="#000" stroke-width="2.7" />
<path d="M1106.2,1290.2V1392.9M1106.2,1418.9V1471.8Q1106.2,1479.8 1114.2,1479.8" fill="none" stroke="#000" stroke-width="2.7" />
<path d="M1165,1479.8L814.3,1479.8" fill="none" stroke="#000" stroke-width="3.0" />
<path d="M794.3,1479.8L821.3,1470.8L821.3,1488.8Z" fill="#000"/>
<rect x="886.7" y="1315" width="51.4" height="35.6" fill="#fff" stroke="#000" stroke-width="2.4" />
<text x="913.5" y="1342.1" font-size="22.5" fill="#000" text-anchor="middle" textLength="47.2" lengthAdjust="spacingAndGlyphs" ><tspan>tan</tspan><tspan font-style="italic">h</tspan></text>
<rect x="969.9" y="1328.5" width="44.5" height="29.2" fill="#fff" stroke="#000" stroke-width="2.4" />
<rect x="1026.3" y="1336.4" width="44.1" height="29.5" fill="#fff" stroke="#000" stroke-width="2.4" />
<text x="994.9" y="1350.7" font-size="25" fill="#000" text-anchor="middle" ><tspan>σ</tspan></text>
<text x="1051" y="1355.8" font-size="25" fill="#000" text-anchor="middle" ><tspan>σ</tspan></text>
<path d="M913,1350.6L913,1366.1" fill="none" stroke="#000" stroke-width="2.7" />
<path d="M913,1392.1L913,1443.8" fill="none" stroke="#000" stroke-width="2.7" />
<path d="M913,1466.8L903,1440.8L923,1440.8Z" fill="#000"/>
<circle cx="913" cy="1379.1" r="13" fill="none" stroke="#c0504d" stroke-width="2"/>
<path d="M908.5,1374.7L917.4,1383.5M917.4,1374.7L908.5,1383.5" stroke="#c0504d" stroke-width="2" fill="none"/>
<path d="M992.8,1357.7V1399.4" fill="none" stroke="#000" stroke-width="2.7" />
<path d="M992.8,1368.1Q992.8,1379.1 982.8,1379.1H953" fill="none" stroke="#000" stroke-width="2.7" />
<path d="M927,1379.1L955,1370.1L955,1388.1Z" fill="#000"/>
<rect x="969.6" y="1399.4" width="45.7" height="30.5" fill="#fff" stroke="#000" stroke-width="2.4" rx="15.3"/>
<text x="989" y="1421" font-size="18.4" fill="#000" text-anchor="middle" ><tspan>1</tspan></text>
<path d="M995,1414.7L1001,1414.7" fill="none" stroke="#333" stroke-width="0.9" />
<path d="M992.8,1429.9L992.8,1443.8" fill="none" stroke="#000" stroke-width="2.7" />
<path d="M992.8,1466.8L982.8,1440.8L1002.8,1440.8Z" fill="#000"/>
<path d="M1051,1365.9V1395.9Q1051,1405.9 1061,1405.9H1068.2" fill="none" stroke="#000" stroke-width="2.7" />
<path d="M1092.7,1405.9L1064.7,1414.9L1064.7,1396.9Z" fill="#000"/>
<circle cx="1106.2" cy="1405.9" r="13" fill="none" stroke="#c0504d" stroke-width="2"/>
<path d="M1101.7,1401.5L1110.6,1410.4M1110.6,1401.5L1101.7,1410.4" stroke="#c0504d" stroke-width="2" fill="none"/>
<circle cx="913" cy="1479.8" r="13" fill="#ccffff" stroke="#c0504d" stroke-width="2"/>
<path d="M905.2,1479.8H920.8M913,1472V1487.6" stroke="#c0504d" stroke-width="2" fill="none"/>
<circle cx="992.8" cy="1479.8" r="13" fill="#ccffff" stroke="#c0504d" stroke-width="2"/>
<path d="M988.3,1475.3L997.2,1484.2M997.2,1475.3L988.3,1484.2" stroke="#c0504d" stroke-width="2" fill="none"/>
<path d="M868.3,1479.8Q857.3,1479.8 857.3,1490.8V1526.8" fill="none" stroke="#000" stroke-width="2.7" />
<path d="M857.3,1548.8L848.3,1522.8L866.3,1522.8Z" fill="#000"/>
<text x="1153.5" y="1266.5" font-size="30" fill="#000" ><tspan font-style="italic">xl</tspan><tspan font-style="italic" font-size="17" dy="8.5" dx="-2">n</tspan></text>
<ellipse cx="1218.2" cy="1258.4" rx="24.5" ry="22" fill="#f9c49a"/>
<path d="M1195.8,1267.3A24.5,22 0 0 1 1222,1236.7" fill="none" stroke="#000" stroke-width="2.6"/>
<path d="M1241.5,1251.6A24.5,22 0 0 1 1213.1,1279.9" fill="none" stroke="#000" stroke-width="2.6"/>
<text x="867.5" y="1388" font-size="30" fill="#000" ><tspan font-style="italic">h</tspan><tspan font-style="italic" font-size="17" dy="9">n</tspan></text>
<text x="999" y="1388" font-size="30" fill="#000" ><tspan font-style="italic">z</tspan><tspan font-style="italic" font-size="17" dy="8.5" dx="-2">n</tspan></text>
<text x="1078.5" y="1361" font-size="30" fill="#000" ><tspan font-style="italic">r</tspan><tspan font-style="italic" font-size="17" dy="8.5" dx="-2">n</tspan></text>
<text x="1165" y="1467.4" font-size="30" fill="#000" ><tspan font-style="italic">h</tspan><tspan font-style="italic" font-size="17" dy="9" dx="6">n</tspan><tspan font-size="14" dx="-2">-</tspan><tspan font-size="17" dx="-4">1</tspan></text>
<text x="818" y="1457" font-size="30" fill="#000" ><tspan font-style="italic">yl</tspan><tspan font-style="italic" font-size="17" dy="8.5" dx="-2">n</tspan></text>
<text x="871.7" y="1533.5" font-size="30" fill="#000" ><tspan font-style="italic">h</tspan><tspan font-style="italic" font-size="17" dy="9">n</tspan></text>
<text x="739.4" y="1373.3" font-size="30" fill="#000" ><tspan font-style="italic">t</tspan><tspan> = </tspan><tspan font-style="italic">n</tspan></text>
<text x="1111.7" y="1526" font-size="30" fill="#000" ><tspan>Gate</tspan></text>
<text x="1197.2" y="1526" font-size="30" fill="#000" textLength="133" lengthAdjust="spacing" ><tspan>Recurrent</tspan></text>
<text x="1352.3" y="1526" font-size="30" fill="#000" textLength="50.5" lengthAdjust="spacingAndGlyphs" ><tspan>Unit</tspan></text>
<clipPath id="gc"><rect x="717.5" y="612" width="711.5" height="936"/></clipPath>
<rect x="1320.8" y="844" width="71.8" height="441" fill="none" stroke="#f3c5a4" stroke-width="3" stroke-dasharray="5 4" />
<text x="1341.7" y="837.7" font-size="30.5" fill="#000" textLength="37.5" lengthAdjust="spacingAndGlyphs" ><tspan font-style="italic">XL</tspan></text>
<ellipse cx="1355.2" cy="882.4" rx="24.8" ry="21.4" fill="#f9c49a"/>
<path d="M1332.5,891.1A24.8,21.4 0 0 1 1359.1,861.3" fill="none" stroke="#000" stroke-width="2.6"/>
<path d="M1378.8,875.8A24.8,21.4 0 0 1 1350,903.3" fill="none" stroke="#000" stroke-width="2.6"/>
<ellipse cx="1355.2" cy="950.6" rx="24.8" ry="21.4" fill="#f9c49a"/>
<path d="M1332.5,959.3A24.8,21.4 0 0 1 1359.1,929.5" fill="none" stroke="#000" stroke-width="2.6"/>
<path d="M1378.8,944A24.8,21.4 0 0 1 1350,971.5" fill="none" stroke="#000" stroke-width="2.6"/>
<ellipse cx="1355.2" cy="1096.8" rx="24.8" ry="21.4" fill="#f9c49a"/>
<path d="M1332.5,1105.5A24.8,21.4 0 0 1 1359.1,1075.7" fill="none" stroke="#000" stroke-width="2.6"/>
<path d="M1378.8,1090.2A24.8,21.4 0 0 1 1350,1117.7" fill="none" stroke="#000" stroke-width="2.6"/>
<ellipse cx="1355.2" cy="1173.7" rx="24.8" ry="21.4" fill="#f9c49a"/>
<path d="M1332.5,1182.4A24.8,21.4 0 0 1 1359.1,1152.6" fill="none" stroke="#000" stroke-width="2.6"/>
<path d="M1378.8,1167.1A24.8,21.4 0 0 1 1350,1194.6" fill="none" stroke="#000" stroke-width="2.6"/>
<ellipse cx="1355.2" cy="1250.7" rx="24.8" ry="21.4" fill="#f9c49a"/>
<path d="M1332.5,1259.4A24.8,21.4 0 0 1 1359.1,1229.6" fill="none" stroke="#000" stroke-width="2.6"/>
<path d="M1378.8,1244.1A24.8,21.4 0 0 1 1350,1271.6" fill="none" stroke="#000" stroke-width="2.6"/>
<rect x="1349" y="1014.5" width="2" height="2" fill="#222"/>
<rect x="1349" y="1020.5" width="2" height="2" fill="#222"/>
<rect x="1349" y="1026.5" width="2" height="2" fill="#222"/>
<text x="1385.8" y="898" font-size="30" fill="#000" clip-path="url(#gc)"><tspan font-style="italic">xl</tspan><tspan font-size="16.5" dy="8" dx="-1.5">1</tspan></text>
<text x="1385.8" y="969.3" font-size="30" fill="#000" clip-path="url(#gc)"><tspan font-style="italic">xl</tspan><tspan font-size="16.5" dy="8" dx="-1.5">2</tspan></text>
<text x="1376" y="1126.7" font-size="30" fill="#000" clip-path="url(#gc)"><tspan font-style="italic">xl</tspan><tspan font-style="italic" font-size="16.5" dy="9" dx="-1">n</tspan><tspan font-size="12" dy="-1" dx="2">−</tspan><tspan font-size="16.5" dy="1" dx="2.5">2</tspan></text>
<text x="1380" y="1191" font-size="30" fill="#000" clip-path="url(#gc)"><tspan font-style="italic">xl</tspan><tspan font-style="italic" font-size="16.5" dy="9" dx="-1">n</tspan><tspan font-size="12" dy="-1" dx="2">−</tspan><tspan font-size="16.5" dy="1" dx="2.5">1</tspan></text>
<text x="1390" y="1261" font-size="30" fill="#000" clip-path="url(#gc)"><tspan font-style="italic">xl</tspan><tspan font-style="italic" font-size="16.5" dy="9" dx="-1">n</tspan></text>
<text x="1254.4" y="896.3" font-size="30" fill="#000" textLength="51" lengthAdjust="spacing" ><tspan font-style="italic">t</tspan><tspan> =1</tspan></text>
<text x="1252" y="985.4" font-size="30" fill="#000" textLength="58.5" lengthAdjust="spacing" ><tspan font-style="italic">t</tspan><tspan> = 2</tspan></text>
<text x="1269.6" y="1296" font-size="30" fill="#000" ><tspan font-style="italic">t</tspan><tspan> = </tspan><tspan font-style="italic">n</tspan></text>
<path d="M1327.7,886.6L1280.3,841" fill="none" stroke="#000" stroke-width="2.8" />
<path d="M1294.6,840.7L1279.3,840L1279.8,853.5" fill="none" stroke="#000" stroke-width="2.8" />
<path d="M1329,945.7L1266,945.7" fill="none" stroke="#000" stroke-width="2.8" />
<path d="M1275.5,935.9L1264,945.7L1275.5,955.5" fill="none" stroke="#000" stroke-width="2.8"/>
<path d="M1329,1254.5L1266,1254.5" fill="none" stroke="#000" stroke-width="2.8" />
<path d="M1275.5,1244.7L1264,1254.5L1275.5,1264.3" fill="none" stroke="#000" stroke-width="2.8"/>
<rect x="22" y="1558" width="1407" height="461" fill="none" stroke="#000" stroke-width="1.3" stroke-dasharray="2 2.2" />
<text x="28.8" y="1594.5" font-size="30.5" fill="#222" font-family="'Liberation Serif','Noto Serif CJK SC',serif" textLength="192" lengthAdjust="spacing">数据重构模块</text>
<rect x="171" y="1608" width="562.2" height="412.3" fill="#d5dcf8" />
<rect x="171" y="1604.4" width="562.2" height="412.1" fill="none" stroke="#111" stroke-width="2.6" stroke-dasharray="34 18.6" stroke-dashoffset="31" />
<path d="M235,1584V1554.3H500.4V1584" fill="none" stroke="#000" stroke-width="2.5" />
<path d="M372.3,1554.3L372.3,1584" fill="none" stroke="#000" stroke-width="2.5" />
<path d="M235,1604.8L226.7,1580.3L243.3,1580.3Z" fill="#000"/>
<path d="M372.3,1604.8L364,1580.3L380.6,1580.3Z" fill="#000"/>
<path d="M500.4,1604.8L492.1,1580.3L508.7,1580.3Z" fill="#000"/>
<path d="M629.7,1584V1563H809.2V1546" fill="none" stroke="#000" stroke-width="2.4" />
<path d="M629.7,1604.8L621.4,1580.8L638,1580.8Z" fill="#000"/>
<text x="200" y="1634" font-size="30" fill="#000" textLength="52" lengthAdjust="spacingAndGlyphs" ><tspan font-style="italic">YH</tspan><tspan>1</tspan></text>
<text x="336" y="1638" font-size="30" fill="#000" textLength="58" lengthAdjust="spacingAndGlyphs" ><tspan font-style="italic">YH</tspan><tspan>2</tspan></text>
<text x="480.5" y="1638" font-size="30" fill="#000" textLength="58" lengthAdjust="spacingAndGlyphs" ><tspan font-style="italic">YH</tspan><tspan>3</tspan></text>
<text x="615" y="1638" font-size="30" fill="#000" textLength="34" lengthAdjust="spacingAndGlyphs" ><tspan font-style="italic">YL</tspan></text>
<rect x="604" y="1640" width="59" height="357.6" fill="none" stroke="#f2a2c4" stroke-width="2.6" stroke-dasharray="4 4" />
<path d="M196.4,1641.2H254.6V1997H196.4" fill="none" stroke="#e6e2f1" stroke-width="2.5" stroke-dasharray="44.4 26.1" stroke-dashoffset="66.9" />
<path d="M196.4,1641.2V1997" fill="none" stroke="#e6e2f1" stroke-width="2.5" stroke-dasharray="44.4 26.1" stroke-dashoffset="49.8" />
<ellipse cx="223.6" cy="1672" rx="20.7" ry="17" fill="#e9e6f1"/>
<path d="M218.6,1688.5A20.7,17 0 0 1 212.5,1657.7" fill="none" stroke="#000" stroke-width="2.5"/>
<path d="M235.5,1658.1A20.7,17 0 0 1 224,1689" fill="none" stroke="#000" stroke-width="2.5"/>
<ellipse cx="223.6" cy="1726.5" rx="20.7" ry="17" fill="#e9e6f1"/>
<path d="M218.6,1743A20.7,17 0 0 1 212.5,1712.2" fill="none" stroke="#000" stroke-width="2.5"/>
<path d="M235.5,1712.6A20.7,17 0 0 1 224,1743.5" fill="none" stroke="#000" stroke-width="2.5"/>
<ellipse cx="223.6" cy="1845.6" rx="20.7" ry="17" fill="#e9e6f1"/>
<path d="M218.6,1862.1A20.7,17 0 0 1 212.5,1831.3" fill="none" stroke="#000" stroke-width="2.5"/>
<path d="M235.5,1831.7A20.7,17 0 0 1 224,1862.6" fill="none" stroke="#000" stroke-width="2.5"/>
<ellipse cx="223.6" cy="1908" rx="20.7" ry="17" fill="#e9e6f1"/>
<path d="M218.6,1924.5A20.7,17 0 0 1 212.5,1893.7" fill="none" stroke="#000" stroke-width="2.5"/>
<path d="M235.5,1894.1A20.7,17 0 0 1 224,1925" fill="none" stroke="#000" stroke-width="2.5"/>
<ellipse cx="223.6" cy="1968.3" rx="20.7" ry="17" fill="#e9e6f1"/>
<path d="M218.6,1984.8A20.7,17 0 0 1 212.5,1954" fill="none" stroke="#000" stroke-width="2.5"/>
<path d="M235.5,1954.4A20.7,17 0 0 1 224,1985.3" fill="none" stroke="#000" stroke-width="2.5"/>
<path d="M337.4,1641.2H395.6V1997H337.4" fill="none" stroke="#e7edd3" stroke-width="2.5" stroke-dasharray="44.4 26.1" stroke-dashoffset="66.9" />
<path d="M337.4,1641.2V1997" fill="none" stroke="#e7edd3" stroke-width="2.5" stroke-dasharray="44.4 26.1" stroke-dashoffset="49.8" />
<ellipse cx="364.6" cy="1672" rx="20.7" ry="17" fill="#e8eedb"/>
<path d="M359.6,1688.5A20.7,17 0 0 1 353.5,1657.7" fill="none" stroke="#000" stroke-width="2.5"/>
<path d="M376.5,1658.1A20.7,17 0 0 1 365,1689" fill="none" stroke="#000" stroke-width="2.5"/>
<ellipse cx="364.6" cy="1726.5" rx="20.7" ry="17" fill="#e8eedb"/>
<path d="M359.6,1743A20.7,17 0 0 1 353.5,1712.2" fill="none" stroke="#000" stroke-width="2.5"/>
<path d="M376.5,1712.6A20.7,17 0 0 1 365,1743.5" fill="none" stroke="#000" stroke-width="2.5"/>
<ellipse cx="364.6" cy="1845.6" rx="20.7" ry="17" fill="#e8eedb"/>
<path d="M359.6,1862.1A20.7,17 0 0 1 353.5,1831.3" fill="none" stroke="#000" stroke-width="2.5"/>
<path d="M376.5,1831.7A20.7,17 0 0 1 365,1862.6" fill="none" stroke="#000" stroke-width="2.5"/>
<ellipse cx="364.6" cy="1908" rx="20.7" ry="17" fill="#e8eedb"/>
<path d="M359.6,1924.5A20.7,17 0 0 1 353.5,1893.7" fill="none" stroke="#000" stroke-width="2.5"/>
<path d="M376.5,1894.1A20.7,17 0 0 1 365,1925" fill="none" stroke="#000" stroke-width="2.5"/>
<ellipse cx="364.6" cy="1968.3" rx="20.7" ry="17" fill="#e8eedb"/>
<path d="M359.6,1984.8A20.7,17 0 0 1 353.5,1954" fill="none" stroke="#000" stroke-width="2.5"/>
<path d="M376.5,1954.4A20.7,17 0 0 1 365,1985.3" fill="none" stroke="#000" stroke-width="2.5"/>
<path d="M475.8,1641.2H534V1997H475.8" fill="none" stroke="#cdf3ea" stroke-width="2.5" stroke-dasharray="44.4 26.1" stroke-dashoffset="66.9" />
<path d="M475.8,1641.2V1997" fill="none" stroke="#cdf3ea" stroke-width="2.5" stroke-dasharray="44.4 26.1" stroke-dashoffset="49.8" />
<ellipse cx="503" cy="1672" rx="20.7" ry="17" fill="#daf6ec"/>
<path d="M498,1688.5A20.7,17 0 0 1 491.9,1657.7" fill="none" stroke="#000" stroke-width="2.5"/>
<path d="M514.9,1658.1A20.7,17 0 0 1 503.4,1689" fill="none" stroke="#000" stroke-width="2.5"/>
<ellipse cx="503" cy="1726.5" rx="20.7" ry="17" fill="#daf6ec"/>
<path d="M498,1743A20.7,17 0 0 1 491.9,1712.2" fill="none" stroke="#000" stroke-width="2.5"/>
<path d="M514.9,1712.6A20.7,17 0 0 1 503.4,1743.5" fill="none" stroke="#000" stroke-width="2.5"/>
<ellipse cx="503" cy="1845.6" rx="20.7" ry="17" fill="#daf6ec"/>
<path d="M498,1862.1A20.7,17 0 0 1 491.9,1831.3" fill="none" stroke="#000" stroke-width="2.5"/>
<path d="M514.9,1831.7A20.7,17 0 0 1 503.4,1862.6" fill="none" stroke="#000" stroke-width="2.5"/>
<ellipse cx="503" cy="1908" rx="20.7" ry="17" fill="#daf6ec"/>
<path d="M498,1924.5A20.7,17 0 0 1 491.9,1893.7" fill="none" stroke="#000" stroke-width="2.5"/>
<path d="M514.9,1894.1A20.7,17 0 0 1 503.4,1925" fill="none" stroke="#000" stroke-width="2.5"/>
<ellipse cx="503" cy="1968.3" rx="20.7" ry="17" fill="#daf6ec"/>
<path d="M498,1984.8A20.7,17 0 0 1 491.9,1954" fill="none" stroke="#000" stroke-width="2.5"/>
<path d="M514.9,1954.4A20.7,17 0 0 1 503.4,1985.3" fill="none" stroke="#000" stroke-width="2.5"/>
<ellipse cx="632" cy="1672" rx="20.7" ry="17" fill="#f6a9ab"/>
<path d="M627,1688.5A20.7,17 0 0 1 620.9,1657.7" fill="none" stroke="#000" stroke-width="2.5"/>
<path d="M643.9,1658.1A20.7,17 0 0 1 632.4,1689" fill="none" stroke="#000" stroke-width="2.5"/>
<ellipse cx="632" cy="1726.5" rx="20.7" ry="17" fill="#f6a9ab"/>
<path d="M627,1743A20.7,17 0 0 1 620.9,1712.2" fill="none" stroke="#000" stroke-width="2.5"/>
<path d="M643.9,1712.6A20.7,17 0 0 1 632.4,1743.5" fill="none" stroke="#000" stroke-width="2.5"/>
<ellipse cx="632" cy="1845.6" rx="20.7" ry="17" fill="#f6a9ab"/>
<path d="M627,1862.1A20.7,17 0 0 1 620.9,1831.3" fill="none" stroke="#000" stroke-width="2.5"/>
<path d="M643.9,1831.7A20.7,17 0 0 1 632.4,1862.6" fill="none" stroke="#000" stroke-width="2.5"/>
<ellipse cx="632" cy="1908" rx="20.7" ry="17" fill="#f6a9ab"/>
<path d="M627,1924.5A20.7,17 0 0 1 620.9,1893.7" fill="none" stroke="#000" stroke-width="2.5"/>
<path d="M643.9,1894.1A20.7,17 0 0 1 632.4,1925" fill="none" stroke="#000" stroke-width="2.5"/>
<ellipse cx="632" cy="1968.3" rx="20.7" ry="17" fill="#f6a9ab"/>
<path d="M627,1984.8A20.7,17 0 0 1 620.9,1954" fill="none" stroke="#000" stroke-width="2.5"/>
<path d="M643.9,1954.4A20.7,17 0 0 1 632.4,1985.3" fill="none" stroke="#000" stroke-width="2.5"/>
<rect x="216.5" y="1776" width="2" height="2" fill="#222"/>
<rect x="216.5" y="1782" width="2" height="2" fill="#222"/>
<rect x="216.5" y="1788" width="2" height="2" fill="#222"/>
<rect x="357" y="1776" width="2" height="2" fill="#222"/>
<rect x="357" y="1782" width="2" height="2" fill="#222"/>
<rect x="357" y="1788" width="2" height="2" fill="#222"/>
<rect x="496.5" y="1776" width="2" height="2" fill="#222"/>
<rect x="496.5" y="1782" width="2" height="2" fill="#222"/>
<rect x="496.5" y="1788" width="2" height="2" fill="#222"/>
<rect x="625.5" y="1776" width="2" height="2" fill="#222"/>
<rect x="625.5" y="1782" width="2" height="2" fill="#222"/>
<rect x="625.5" y="1788" width="2" height="2" fill="#222"/>
<text x="259" y="1677" font-size="30" fill="#000" ><tspan font-style="italic">y</tspan><tspan font-style="italic" dx="-1.5">h</tspan><tspan dx="-5">1</tspan><tspan font-size="16.5" dy="9" dx="-1.5">1</tspan></text>
<text x="259" y="1732" font-size="30" fill="#000" ><tspan font-style="italic">y</tspan><tspan font-style="italic" dx="-1.5">h</tspan><tspan dx="-5">1</tspan><tspan font-size="16.5" dy="9" dx="-1.5">2</tspan></text>
<text x="258" y="1862" font-size="30" fill="#000" ><tspan font-style="italic">y</tspan><tspan font-style="italic" dx="-1.5">h</tspan><tspan dx="-5">1</tspan><tspan font-style="italic" font-size="16.5" dy="9" dx="-1.5">n</tspan><tspan font-size="12" dy="-1" dx="2">−</tspan><tspan font-size="16.5" dy="1" dx="2.5">2</tspan></text>
<text x="259" y="1920" font-size="30" fill="#000" ><tspan font-style="italic">y</tspan><tspan font-style="italic" dx="-1.5">h</tspan><tspan dx="-5">1</tspan><tspan font-style="italic" font-size="16.5" dy="9" dx="-1.5">n</tspan><tspan font-size="12" dy="-1" dx="2">−</tspan><tspan font-size="16.5" dy="1" dx="2.5">1</tspan></text>
<text x="260" y="1979" font-size="30" fill="#000" ><tspan font-style="italic">y</tspan><tspan font-style="italic" dx="-1.5">h</tspan><tspan dx="-5">1</tspan><tspan font-style="italic" font-size="16.5" dy="9" dx="-1.5">n</tspan></text>
<text x="406" y="1677" font-size="30" fill="#000" ><tspan font-style="italic">y</tspan><tspan font-style="italic" dx="-1.5">h</tspan><tspan dx="-3">2</tspan><tspan font-size="16.5" dy="9" dx="-1.5">1</tspan></text>
<text x="404" y="1731" font-size="30" fill="#000" ><tspan font-style="italic">y</tspan><tspan font-style="italic" dx="-1.5">h</tspan><tspan dx="-3">2</tspan><tspan font-size="16.5" dy="9" dx="-1.5">2</tspan></text>
<text x="395" y="1857" font-size="30" fill="#000" ><tspan font-style="italic">y</tspan><tspan font-style="italic" dx="-1.5">h</tspan><tspan dx="-3">2</tspan><tspan font-style="italic" font-size="16.5" dy="9" dx="-1.5">n</tspan><tspan font-size="12" dy="-1" dx="2">−</tspan><tspan font-size="16.5" dy="1" dx="2.5">2</tspan></text>
<text x="392" y="1918" font-size="30" fill="#000" ><tspan font-style="italic">y</tspan><tspan font-style="italic" dx="-1.5">h</tspan><tspan dx="-3">2</tspan><tspan font-style="italic" font-size="16.5" dy="9" dx="-1.5">n</tspan><tspan font-size="12" dy="-1" dx="2">−</tspan><tspan font-size="16.5" dy="1" dx="2.5">1</tspan></text>
<text x="389" y="1974" font-size="30" fill="#000" ><tspan font-style="italic">y</tspan><tspan font-style="italic" dx="-1.5">h</tspan><tspan dx="-3">2</tspan><tspan font-style="italic" font-size="16.5" dy="9" dx="-1.5">n</tspan></text>
<text x="545" y="1677" font-size="30" fill="#000" ><tspan font-style="italic">y</tspan><tspan font-style="italic" dx="-1.5">h</tspan><tspan dx="-3">3</tspan><tspan font-size="16.5" dy="9" dx="-1.5">1</tspan></text>
<text x="543" y="1731" font-size="30" fill="#000" ><tspan font-style="italic">y</tspan><tspan font-style="italic" dx="-1.5">h</tspan><tspan dx="-3">3</tspan><tspan font-size="16.5" dy="9" dx="-1.5">2</tspan></text>
<text x="527" y="1857" font-size="30" fill="#000" ><tspan font-style="italic">y</tspan><tspan font-style="italic" dx="-1.5">h</tspan><tspan dx="-3">3</tspan><tspan font-style="italic" font-size="16.5" dy="9" dx="-1.5">n</tspan><tspan font-size="12" dy="-1" dx="2">−</tspan><tspan font-size="16.5" dy="1" dx="2.5">2</tspan></text>
<text x="529" y="1915" font-size="30" fill="#000" ><tspan font-style="italic">y</tspan><tspan font-style="italic" dx="-1.5">h</tspan><tspan dx="-3">3</tspan><tspan font-style="italic" font-size="16.5" dy="9" dx="-1.5">n</tspan><tspan font-size="12" dy="-1" dx="2">−</tspan><tspan font-size="16.5" dy="1" dx="2.5">1</tspan></text>
<text x="531" y="1981" font-size="30" fill="#000" ><tspan font-style="italic">y</tspan><tspan font-style="italic" dx="-1.5">h</tspan><tspan dx="-3">3</tspan><tspan font-style="italic" font-size="16.5" dy="9" dx="-1.5">n</tspan></text>
<text x="672" y="1677" font-size="30" fill="#000" ><tspan font-style="italic">yl</tspan><tspan font-size="16.5" dy="9" dx="-1.5">1</tspan></text>
<text x="671" y="1731" font-size="30" fill="#000" ><tspan font-style="italic">yl</tspan><tspan font-size="16.5" dy="9" dx="-1.5">2</tspan></text>
<text x="666" y="1857" font-size="30" fill="#000" ><tspan font-style="italic">yl</tspan><tspan font-style="italic" font-size="16.5" dy="9" dx="-1.5">n</tspan><tspan font-size="12" dy="-1" dx="2">−</tspan><tspan font-size="16.5" dy="1" dx="2.5">2</tspan></text>
<text x="665" y="1915" font-size="30" fill="#000" ><tspan font-style="italic">yl</tspan><tspan font-style="italic" font-size="16.5" dy="9" dx="-1.5">n</tspan><tspan font-size="12" dy="-1" dx="2">−</tspan><tspan font-size="16.5" dy="1" dx="2.5">1</tspan></text>
<text x="668" y="1974" font-size="30" fill="#000" ><tspan font-style="italic">yl</tspan><tspan font-style="italic" font-size="16.5" dy="9" dx="-1.5">n</tspan></text>
<path d="M733,1624.3H930.4V1640" fill="none" stroke="#000" stroke-width="2.2" />
<path d="M930.4,1660L922,1636.5L938.8,1636.5Z" fill="#000"/>
<text x="961.7" y="1649.6" font-size="24" fill="#000" textLength="110" lengthAdjust="spacingAndGlyphs" ><tspan>Ensemble</tspan></text>
<rect x="778.1" y="1661" width="296.5" height="324.4" fill="#e6b9b8" stroke="#111" stroke-width="2.6" stroke-dasharray="34 18.7" stroke-dashoffset="16" />
<rect x="784.7" y="1676.4" width="279.6" height="58.3" fill="#fff" stroke="#111" stroke-width="2.5" stroke-dasharray="34.5 18.7" />
<text x="794" y="1714.4" font-size="32" fill="#000" textLength="263" lengthAdjust="spacingAndGlyphs" ><tspan>[</tspan><tspan font-style="italic">YH</tspan><tspan dx="-3">1, </tspan><tspan font-style="italic">YH</tspan><tspan dx="-3">2, </tspan><tspan font-style="italic">YH</tspan><tspan dx="-3">3, </tspan><tspan font-style="italic">YL</tspan><tspan dx="-4">]</tspan></text>
<path d="M930,1742L930,1794" fill="none" stroke="#000" stroke-width="1.9" />
<path d="M920.7,1785L930,1795L939.3,1785" fill="none" stroke="#000" stroke-width="1.9"/>
<circle cx="930" cy="1813.2" r="13.7" fill="none" stroke="#c0504d" stroke-width="1.8"/>
<path d="M925.2,1808.4L934.8,1818M934.8,1808.4L925.2,1818" stroke="#c0504d" stroke-width="1.8" fill="none"/>
<path d="M930,1890.4L930,1838" fill="none" stroke="#000" stroke-width="1.9" />
<path d="M939.3,1846.5L930,1836.5L920.7,1846.5" fill="none" stroke="#000" stroke-width="1.9"/>
<rect x="789.4" y="1901" width="279" height="59.1" fill="#d99694" stroke="#111" stroke-width="2.5" stroke-dasharray="34.5 18.7" />
<text x="798.6" y="1936.6" font-size="32" fill="#000" textLength="258.5" lengthAdjust="spacingAndGlyphs" ><tspan>attention_weights:W</tspan></text>
<path d="M944,1813.2L1074,1813.2" fill="none" stroke="#000" stroke-width="3" />
<path d="M1097,1813.2L1070,1822.2L1070,1804.2Z" fill="#000"/>
<path d="M1097.3,1585.5H1165.6V2017H1097.3" fill="none" stroke="#d99694" stroke-width="2.6" stroke-dasharray="44.4 26.1" stroke-dashoffset="39.5" />
<path d="M1097.3,1585.5V2017" fill="none" stroke="#d99694" stroke-width="2.6" stroke-dasharray="44.4 26.1" stroke-dashoffset="3.9" />
<ellipse cx="1129.6" cy="1619.7" rx="24.3" ry="21.8" fill="#da9694"/>
<path d="M1107.4,1628.6A24.3,21.8 0 0 1 1133.4,1598.2" fill="none" stroke="#000" stroke-width="2.6"/>
<path d="M1152.7,1613A24.3,21.8 0 0 1 1124.5,1641" fill="none" stroke="#000" stroke-width="2.6"/>
<ellipse cx="1129.6" cy="1694.5" rx="24.3" ry="21.8" fill="#da9694"/>
<path d="M1107.4,1703.4A24.3,21.8 0 0 1 1133.4,1673" fill="none" stroke="#000" stroke-width="2.6"/>
<path d="M1152.7,1687.8A24.3,21.8 0 0 1 1124.5,1715.8" fill="none" stroke="#000" stroke-width="2.6"/>
<ellipse cx="1129.6" cy="1769" rx="24.3" ry="21.8" fill="#da9694"/>
<path d="M1107.4,1777.9A24.3,21.8 0 0 1 1133.4,1747.5" fill="none" stroke="#000" stroke-width="2.6"/>
<path d="M1152.7,1762.3A24.3,21.8 0 0 1 1124.5,1790.3" fill="none" stroke="#000" stroke-width="2.6"/>
<ellipse cx="1129.6" cy="1913" rx="24.3" ry="21.8" fill="#da9694"/>
<path d="M1107.4,1921.9A24.3,21.8 0 0 1 1133.4,1891.5" fill="none" stroke="#000" stroke-width="2.6"/>
<path d="M1152.7,1906.3A24.3,21.8 0 0 1 1124.5,1934.3" fill="none" stroke="#000" stroke-width="2.6"/>
<ellipse cx="1129.6" cy="1980" rx="24.3" ry="21.8" fill="#da9694"/>
<path d="M1107.4,1988.9A24.3,21.8 0 0 1 1133.4,1958.5" fill="none" stroke="#000" stroke-width="2.6"/>
<path d="M1152.7,1973.3A24.3,21.8 0 0 1 1124.5,2001.3" fill="none" stroke="#000" stroke-width="2.6"/>
<rect x="1135" y="1837" width="2" height="2" fill="#222"/>
<rect x="1135" y="1843" width="2" height="2" fill="#222"/>
<rect x="1135" y="1849" width="2" height="2" fill="#222"/>
<text x="1178.5" y="1632" font-size="30" fill="#000" ><tspan font-style="italic">y</tspan><tspan font-size="16.5" dy="9" dx="-1.5">1</tspan></text>
<text x="1178.5" y="1701" font-size="30" fill="#000" ><tspan font-style="italic">y</tspan><tspan font-size="16.5" dy="9" dx="-1.5">2</tspan></text>
<text x="1178.5" y="1778" font-size="30" fill="#000" ><tspan font-style="italic">y</tspan><tspan font-size="16.5" dy="9" dx="-1.5">3</tspan></text>
<text x="1178.5" y="1920" font-size="30" fill="#000" ><tspan>y</tspan><tspan font-style="italic" font-size="16.5" dy="9" dx="-1.5">n</tspan><tspan font-size="12" dy="-1" dx="2">−</tspan><tspan font-size="16.5" dy="1" dx="2.5">1</tspan></text>
<text x="1176" y="1990" font-size="30" fill="#000" ><tspan font-style="italic">y</tspan><tspan font-style="italic" font-size="16.5" dy="9" dx="-1.5">n</tspan></text>
<text x="1167.6" y="1588.5" font-size="25" fill="#000" textLength="258" lengthAdjust="spacing" ><tspan font-style="italic">Y</tspan><tspan font-style="italic" font-size="12" dy="-11">T</tspan><tspan dy="11"> = [y</tspan><tspan font-size="14" dy="6">1</tspan><tspan dy="-6">,  y</tspan><tspan font-size="14" dy="6"> 2</tspan><tspan dy="-6">,  y</tspan><tspan font-size="14" dy="6"> 3</tspan><tspan dy="-6">, ..., y</tspan><tspan font-style="italic" font-size="14" dy="6">n</tspan><tspan dy="-6"> ]</tspan></text>
<text x="1224" y="1780.7" font-size="22" fill="#000" ><tspan font-style="italic">N</tspan><tspan font-size="13" dy="5">EOL</tspan></text>
<path d="M1182.4,1809L1222,1809" fill="none" stroke="#000" stroke-width="2.6" />
<path d="M1243,1809L1219,1817L1219,1801Z" fill="#000"/>
<text x="1254" y="1816.5" font-size="22" fill="#000" textLength="169" lengthAdjust="spacingAndGlyphs" ><tspan font-style="italic">N</tspan><tspan font-size="13" dy="5">RUL</tspan><tspan dy="-5"> = </tspan><tspan font-style="italic">N</tspan><tspan font-size="13" dy="5">EOL</tspan><tspan dy="-5"> − </tspan><tspan font-style="italic">N</tspan><tspan font-size="13" dy="5">ECL</tspan></text>
</svg>
</body></html>
